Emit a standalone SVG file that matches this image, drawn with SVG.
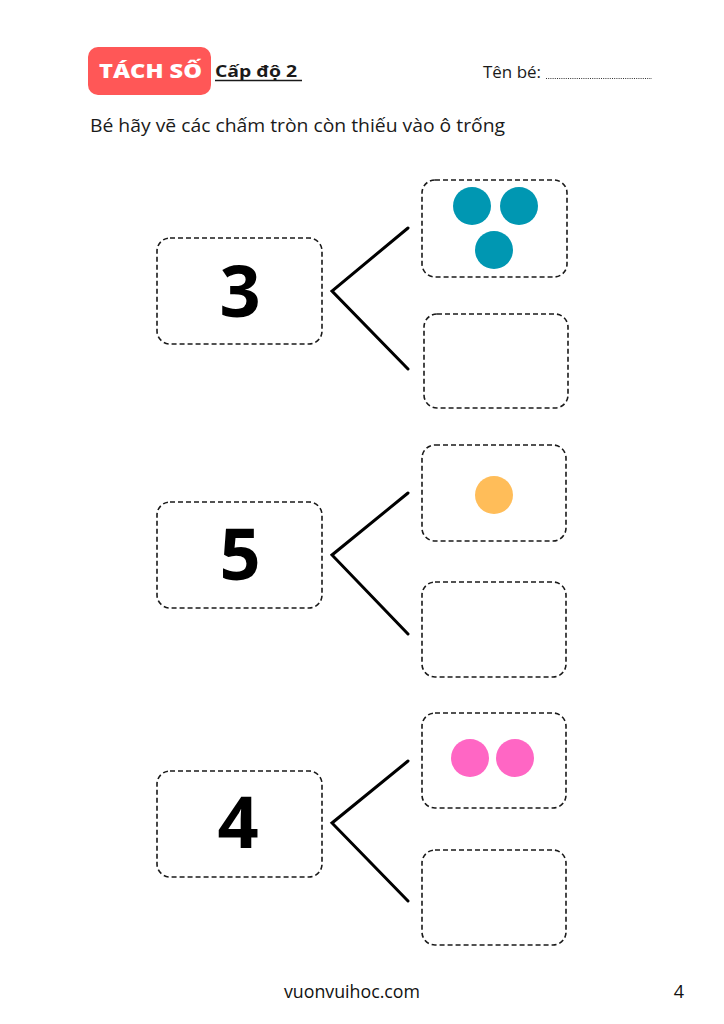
<svg xmlns="http://www.w3.org/2000/svg" width="724" height="1024" viewBox="0 0 724 1024">
<style>
.box{fill:none;stroke:#1a1a1a;stroke-width:1.6;stroke-dasharray:5 3}
.conn{stroke:#000;stroke-width:3;fill:none;stroke-linecap:round}
.num{font-family:"Open Sans","Noto Sans",sans-serif;font-weight:700;font-size:72px;fill:#000;text-anchor:middle}
.txt{font-family:"Open Sans","Noto Sans",sans-serif;fill:#1a1a1a}
.teal{fill:#0097B2}
.orange{fill:#FFBD59}
.pink{fill:#FF66C4}
</style>
<rect width="724" height="1024" fill="#fff"/>
<g id="header">
<rect x="88" y="47" width="123" height="48" rx="10" fill="#FF5757"/>
<text x="99" y="78" font-family="Open Sans, Noto Sans, sans-serif" font-size="19" font-weight="800" fill="#fff" textLength="103" lengthAdjust="spacingAndGlyphs">TÁCH SỐ</text>
<text x="215" y="77" class="txt" font-size="16" font-weight="bold" textLength="82" lengthAdjust="spacingAndGlyphs">Cấp độ 2</text>
<line x1="215" y1="80.5" x2="302" y2="80.5" stroke="#1a1a1a" stroke-width="1.3"/>
<text x="483" y="78" class="txt" font-size="16" textLength="58" lengthAdjust="spacingAndGlyphs">Tên bé:</text>
<line x1="546" y1="78.5" x2="652" y2="78.5" stroke="#333" stroke-width="1" stroke-dasharray="1 1.2"/>
<text x="90" y="132" class="txt" font-size="17.5" textLength="415" lengthAdjust="spacingAndGlyphs">Bé hãy vẽ các chấm tròn còn thiếu vào ô trống</text>
</g>
<g id="connectors">
<polyline class="conn" points="408,228 332,291 408,369"/>
<polyline class="conn" points="408,493 332,555 408,634"/>
<polyline class="conn" points="408,761 332,823 408,901"/>
</g>
<g id="node-3">
<rect class="box" x="157" y="238" width="165" height="106" rx="13"/>
<text class="num" x="240" y="317">3</text>
</g>
<g id="node-3-top">
<rect class="box" x="422" y="180" width="145" height="97" rx="13"/>
<circle class="teal" cx="472" cy="206" r="19"/>
<circle class="teal" cx="519" cy="206" r="19"/>
<circle class="teal" cx="494" cy="250" r="19"/>
</g>
<g id="node-3-bottom">
<rect class="box" x="424" y="314" width="144" height="94" rx="13"/>
</g>
<g id="node-5">
<rect class="box" x="157" y="502" width="165" height="106" rx="13"/>
<text class="num" x="240" y="580">5</text>
</g>
<g id="node-5-top">
<rect class="box" x="422" y="445" width="144" height="96" rx="13"/>
<circle class="orange" cx="494" cy="495" r="19"/>
</g>
<g id="node-5-bottom">
<rect class="box" x="422" y="582" width="144" height="95" rx="13"/>
</g>
<g id="node-4">
<rect class="box" x="157" y="771" width="165" height="106" rx="13"/>
<text class="num" x="238" y="848">4</text>
</g>
<g id="node-4-top">
<rect class="box" x="422" y="713" width="144" height="95" rx="13"/>
<circle class="pink" cx="470" cy="758" r="19"/>
<circle class="pink" cx="515" cy="758" r="19"/>
</g>
<g id="node-4-bottom">
<rect class="box" x="422" y="850" width="144" height="95" rx="13"/>
</g>
<g id="footer">
<text x="284" y="998" font-family="Open Sans, Noto Sans, sans-serif" font-size="18" fill="#111" textLength="136" lengthAdjust="spacingAndGlyphs">vuonvuihoc.com</text>
<text x="679" y="998" font-family="Open Sans, Noto Sans, sans-serif" font-size="18" fill="#111" text-anchor="middle">4</text>
</g>
</svg>
